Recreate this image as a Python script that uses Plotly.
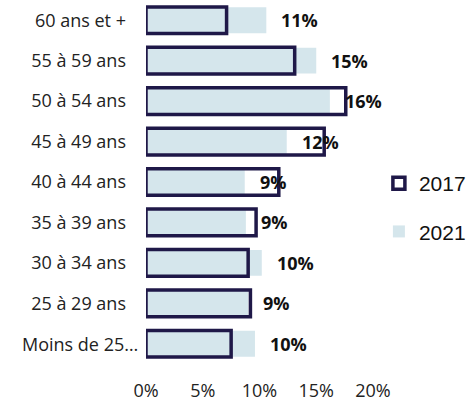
import plotly.graph_objects as go

# Age brackets, top to bottom
age_groups = ["60 ans et +", "55 à 59 ans", "50 à 54 ans", "45 à 49 ans", "40 à 44 ans",
              "35 à 39 ans", "30 à 34 ans", "25 à 29 ans", "Moins de 25…"]
share_2017 = [7.1, 13.1, 17.6, 15.7, 11.7, 9.7, 9.0, 9.2, 7.5]
share_2021 = [10.6, 15.0, 16.2, 12.4, 8.7, 8.8, 10.2, 9.0, 9.6]
labels_2021 = ["11%", "15%", "16%", "12%", "9%", "9%", "10%", "9%", "10%"]
x_ticks = [0, 5, 10, 15, 20]
x_tick_text = ["0%", "5%", "10%", "15%", "20%"]

NAVY = "#1f1848"
LIGHT = "#d5e6ec"
FONT = "Open Sans"

fig = go.Figure()
fig.add_trace(go.Bar(
    y=age_groups, x=share_2021, orientation="h", name="2021",
    marker=dict(color=LIGHT, line=dict(width=0)), width=0.64,
    legendrank=2, legendgroup="b", hoverinfo="skip",
))
fig.add_trace(go.Bar(
    y=age_groups, x=share_2017, orientation="h", name="2017",
    marker=dict(color="rgba(0,0,0,0)", line=dict(color=NAVY, width=3.5)), width=0.66,
    legendrank=1, legendgroup="a", hoverinfo="skip",
))

for cat, val, lab in zip(age_groups, share_2021, labels_2021):
    fig.add_annotation(x=val, y=cat, text=f"<b>{lab}</b>", showarrow=False,
                       xanchor="left", xshift=13,
                       font=dict(family=FONT, size=18, color="#111111"))

# The truncated bottom label sits a little closer to its bar than the others
tick_text = age_groups[:-1] + [""]
fig.add_annotation(x=-0.026, xref="paper", y=age_groups[-1], yref="y",
                   text=age_groups[-1], showarrow=False, xanchor="right",
                   font=dict(family=FONT, size=18, color="#222222"))

fig.update_layout(
    width=470, height=403,
    margin=dict(l=146, r=97, t=0, b=39, autoexpand=False),
    barmode="overlay",
    plot_bgcolor="white", paper_bgcolor="white",
    font=dict(family=FONT, size=18, color="#222222"),
    showlegend=True,
    legend=dict(x=1.026, y=0.43, xanchor="left", yanchor="middle",
                traceorder="grouped", tracegroupgap=18,
                font=dict(family="Liberation Sans", size=21, color="#111111"),
                itemwidth=30),
    xaxis=dict(range=[0, 20], tickvals=x_ticks, ticktext=x_tick_text,
               showgrid=False, zeroline=False, showline=False,
               ticklabelstandoff=14, tickfont=dict(size=18)),
    yaxis=dict(categoryorder="array", categoryarray=age_groups, autorange="reversed",
               tickvals=age_groups, ticktext=tick_text,
               showgrid=False, zeroline=False, showline=False,
               ticklabelstandoff=19, tickfont=dict(size=18)),
)

fig.write_html("out.html")
